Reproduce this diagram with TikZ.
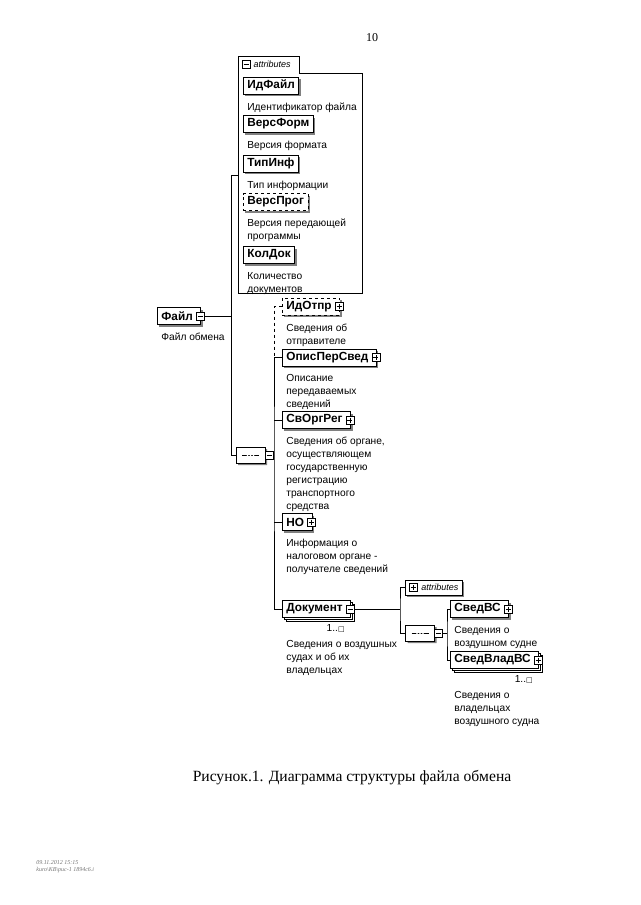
\documentclass[tikz,border=0pt]{standalone}
\usepackage{fontspec}
\setmainfont{Liberation Serif}
\newfontfamily\arialfont{Liberation Sans}
\newfontfamily\symfont{DejaVu Sans}
\usetikzlibrary{positioning,shapes.misc,shadows}

\newcommand{\pad}{\kern4pt}

\begin{document}
\begin{tikzpicture}[x=1pt,y=-1pt,line width=0.8pt,
  elem/.style={draw,fill=white,anchor=west,font=\arialfont\bfseries\fontsize{11.8}{13}\selectfont,
    minimum height=17pt,inner xsep=4pt,inner ysep=0pt,
    drop shadow={shadow xshift=2pt,shadow yshift=-2pt,fill=black!50,opacity=1}},
  opt elem/.style={elem,dashed},
  many elem/.style={draw,fill=white,anchor=west,font=\arialfont\bfseries\fontsize{11.8}{13}\selectfont,
    minimum height=17pt,inner xsep=4pt,inner ysep=0pt,
    double copy shadow={shadow xshift=2pt,shadow yshift=-2pt,fill=white,draw=black}},
  desc/.style={font=\arialfont\fontsize{10.2}{13}\selectfont,align=left,inner sep=0pt},
  mult/.style={font=\arialfont\fontsize{10.2}{12}\selectfont,inner sep=0pt},
  bx/.style={draw,fill=white,minimum size=8pt,inner sep=0pt,solid,line width=0.6pt},
  plusbx/.style={bx,path picture={
    \draw ([xshift=1.5pt]path picture bounding box.west) -- ([xshift=-1.5pt]path picture bounding box.east)
      ([yshift=-1.5pt]path picture bounding box.north) -- ([yshift=1.5pt]path picture bounding box.south);}},
  minusbx/.style={bx,path picture={
    \draw ([xshift=1.5pt]path picture bounding box.west) -- ([xshift=-1.5pt]path picture bounding box.east);}},
  seq/.style={draw,fill=white,chamfered rectangle,chamfered rectangle xsep=4pt,
    minimum width=29pt,minimum height=16pt,inner sep=0pt,
    drop shadow={shadow xshift=2pt,shadow yshift=-2pt,fill=black!50,opacity=1},
    path picture={
      \draw ([xshift=6pt]path picture bounding box.west) -- ([xshift=-6pt]path picture bounding box.east);
      \foreach \dx in {-3,0,3} \fill ([xshift=\dx pt]path picture bounding box.center) circle (1pt);}},
  attrtext/.style={font=\arialfont\itshape\fontsize{9}{10}\selectfont,inner sep=0pt,anchor=west}
  ]
  \useasboundingbox (0,0) rectangle (640,905);

  % page number
  \node[font=\fontsize{12}{14}\selectfont] (pagenum) at (372,38) {10};

  % attributes of Файл
  \draw (238,56) -- (299,56) -- (299,73) -- (362,73) -- (362,293) -- (238,293) -- cycle;
  \node[minusbx] (attrax) at (246,64.5) {};
  \node[attrtext,right=3pt of attrax] (attra) {attributes};
  \coordinate (attrin) at (238,175);

  \node[elem] (idfajl) at (243,85.5) {ИдФайл};
  \node[desc,below right=8pt and 4pt of idfajl.south west] (idfajld) {Идентификатор файла};
  \node[elem] (versform) at (243,124) {ВерсФорм};
  \node[desc,below right=8pt and 4pt of versform.south west] (versformd) {Версия формата};
  \node[elem] (tipinf) at (243,163.5) {ТипИнф};
  \node[desc,below right=8pt and 4pt of tipinf.south west] (tipinfd) {Тип информации};
  \node[opt elem] (versprog) at (243,202) {ВерсПрог};
  \node[desc,below right=8pt and 4pt of versprog.south west] (versprogd) {Версия передающей\\программы};
  \node[elem] (koldok) at (243,255) {КолДок};
  \node[desc,below right=8pt and 4pt of koldok.south west] (koldokd) {Количество\\документов};

  % root
  \node[elem] (fajl) at (157,316) {Файл\pad};
  \node[minusbx] (fajlx) at ([xshift=-1pt]fajl.east) {};
  \node[desc,below right=8pt and 4pt of fajl.south west] (fajld) {Файл обмена};
  \coordinate (trunk) at (231,316);
  \draw (fajlx.east) -- (trunk);

  % sequence of Файл
  \node[seq] (seqa) at (250.5,455) {};
  \node[minusbx] (seqax) at (269,455) {};
  \draw (attrin) -- (attrin -| trunk) |- (seqa.west);
  \coordinate (busa) at (274,455);
  \draw (seqax.east) -- (busa);

  \node[opt elem] (idotpr) at (282,306.5) {ИдОтпр\pad};
  \node[plusbx] (idotprx) at ([xshift=-1pt]idotpr.east) {};
  \node[desc,below right=8pt and 4pt of idotpr.south west] (idotprd) {Сведения об\\отправителе};

  \node[elem] (opis) at (282,357.5) {ОписПерСвед\pad};
  \node[plusbx] (opisx) at ([xshift=-1pt]opis.east) {};
  \node[desc,below right=8pt and 4pt of opis.south west] (opisd) {Описание\\передаваемых\\сведений};

  \node[elem] (svorg) at (282,420) {СвОргРег\pad};
  \node[plusbx] (svorgx) at ([xshift=-1pt]svorg.east) {};
  \node[desc,below right=8pt and 4pt of svorg.south west] (svorgd)
    {Сведения об органе,\\осуществляющем\\государственную\\регистрацию\\транспортного\\средства};

  \node[elem] (no) at (282,522) {НО\pad};
  \node[plusbx] (nox) at ([xshift=-1pt]no.east) {};
  \node[desc,below right=8pt and 4pt of no.south west] (nod)
    {Информация о\\налоговом органе -\\получателе сведений};

  \node[many elem] (dok) at (282,609) {Документ\pad};
  \node[minusbx] (dokx) at ([xshift=-1pt]dok.east) {};
  \node[mult,below left=6pt and 6pt of dok.south east] (dokm) {1..{\symfont\fontsize{7}{8}\selectfont □}};
  \node[desc,below right=22pt and 4pt of dok.south west] (dokd)
    {Сведения о воздушных\\судах и об их\\владельцах};

  \draw[dashed] (idotpr.west) -| (opis.west -| busa);
  \draw (opis.west) -| (busa) |- (dok.west);
  \draw (svorg.west) -- (svorg.west -| busa);
  \draw (no.west) -- (no.west -| busa);

  % content of Документ
  \coordinate (busb) at (400,609);
  \draw (dokx.east) -- (busb);
  \node[elem,minimum height=15pt] (attrb) at (405,587.5) {\hspace{12pt}\fontsize{9}{10}\selectfont\mdseries\itshape attributes};
  \node[plusbx] (attrbx) at ([xshift=8pt]attrb.west) {};
  \node[seq] (seqb) at (420,633) {};
  \node[minusbx] (seqbx) at (438.5,633) {};
  \draw (attrb.west) -| (busb) |- (seqb.west);
  \coordinate (busc) at (447,633);
  \draw (seqbx.east) -- (busc);

  \node[elem] (svedvs) at (450,609) {СведВС\pad};
  \node[plusbx] (svedvsx) at ([xshift=-1pt]svedvs.east) {};
  \node[desc,below right=8pt and 4pt of svedvs.south west] (svedvsd) {Сведения о\\воздушном судне};

  \node[many elem] (svvlad) at (450,660) {СведВладВС\pad};
  \node[plusbx] (svvladx) at ([xshift=-1pt]svvlad.east) {};
  \node[mult,below left=6pt and 6pt of svvlad.south east] (svvladm) {1..{\symfont\fontsize{7}{8}\selectfont □}};
  \node[desc,below right=22pt and 4pt of svvlad.south west] (svvladd)
    {Сведения о\\владельцах\\воздушного судна};

  \draw (svedvs.west) -| (busc) |- (svvlad.west);

  % caption and stamp
  \node[font=\fontsize{15.6}{18}\selectfont] (caption) at (352,778) {Рисунок.1. Диаграмма структуры файла обмена};
  \node[font=\itshape\fontsize{6}{7}\selectfont,text=black!55,align=left,anchor=west,inner sep=0pt] (stamp)
    at (36,867) {09.11.2012 15:15\\kuro\textbackslash КВ\textbackslash рис-1 1894с6.i};
\end{tikzpicture}
\end{document}
